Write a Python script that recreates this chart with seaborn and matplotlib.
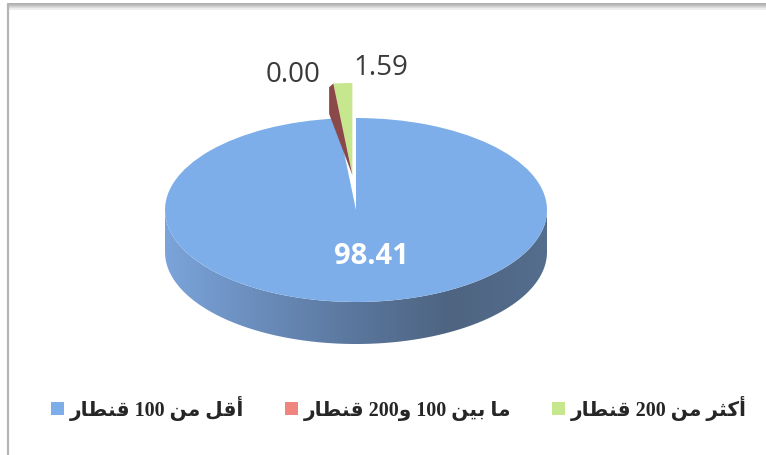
import re
import numpy as np
import matplotlib
matplotlib.use("Agg")
import matplotlib.pyplot as plt
from matplotlib.patches import Polygon
from matplotlib.lines import Line2D
from matplotlib.colors import LinearSegmentedColormap
import seaborn as sns

# data
categories = ["أقل من 100 قنطار", "ما بين 100 و200 قنطار", "أكثر من 200 قنطار"]
values = [98.41, 0.00, 1.59]
value_labels = ["98.41", "0.00", "1.59"]
colors = ["#7EAEE9", "#F0857F", "#C6E78E"]
explode = [0, 0.38, 0.38]

# arabic shaping (matplotlib has no bidi / joining support)
FORMS = {
    "ا": ("\uFE8D", "\uFE8E", None, None),
    "أ": ("\uFE83", "\uFE84", None, None),
    "ب": ("\uFE8F", "\uFE90", "\uFE91", "\uFE92"),
    "ث": ("\uFE99", "\uFE9A", "\uFE9B", "\uFE9C"),
    "ر": ("\uFEAD", "\uFEAE", None, None),
    "ط": ("\uFEC1", "\uFEC2", "\uFEC3", "\uFEC4"),
    "ق": ("\uFED5", "\uFED6", "\uFED7", "\uFED8"),
    "ك": ("\uFED9", "\uFEDA", "\uFEDB", "\uFEDC"),
    "ل": ("\uFEDD", "\uFEDE", "\uFEDF", "\uFEE0"),
    "م": ("\uFEE1", "\uFEE2", "\uFEE3", "\uFEE4"),
    "ن": ("\uFEE5", "\uFEE6", "\uFEE7", "\uFEE8"),
    "و": ("\uFEED", "\uFEEE", None, None),
    "ي": ("\uFEF1", "\uFEF2", "\uFEF3", "\uFEF4"),
}


def shape(s):
    out = []
    for i, ch in enumerate(s):
        if ch not in FORMS:
            out.append(ch)
            continue
        prev = s[i - 1] if i > 0 else ""
        nxt = s[i + 1] if i + 1 < len(s) else ""
        pj = prev in FORMS and FORMS[prev][2] is not None
        nj = FORMS[ch][2] is not None and nxt in FORMS
        iso, fin, ini, med = FORMS[ch]
        if pj and nj:
            out.append(med)
        elif pj:
            out.append(fin)
        elif nj:
            out.append(ini)
        else:
            out.append(iso)
    vis = "".join(out)[::-1]
    return re.sub(r"[0-9]+", lambda m: m.group(0)[::-1], vis)


sns.set_theme(style="white")
plt.rcParams["font.family"] = ["Open Sans", "DejaVu Sans"]

W, H = 766, 455
cx, cy = 356, 210          # pie centre (pixels from top-left)
rx, ry, depth = 191, 92, 42

fig = plt.figure(figsize=(W / 100, H / 100), dpi=100)
ax = fig.add_axes([0, 0, 1, 1])

wedges, _ = ax.pie(values, colors=colors, startangle=90, counterclock=False,
                   explode=explode, wedgeprops=dict(linewidth=0, zorder=2))

# side wall of the 3d pie
d = depth / ry
th = np.linspace(np.pi, 2 * np.pi, 200)
top = np.column_stack([np.cos(th), np.sin(th)])
bot = np.column_stack([np.cos(th), np.sin(th) - d])[::-1]
side = Polygon(np.vstack([top, bot]), closed=True, facecolor="none",
               edgecolor="none", zorder=1)
ax.add_patch(side)
cmap = LinearSegmentedColormap.from_list(
    "side", ["#7BA4DA", "#6A8CBB", "#5A769C", "#4E6481", "#556E8E"])
grad = np.linspace(0, 1, 256).reshape(1, -1)
im = ax.imshow(grad, extent=[-1, 1, -1 - d, 0], aspect="auto", cmap=cmap,
               zorder=1, interpolation="bilinear")
im.set_clip_path(side)

# thin dark face of the exploded 0.00 slice, along the green slice edge
phi = np.deg2rad(wedges[1].theta2)
tip = np.array(wedges[2].center)
rim = tip + np.array([np.cos(phi), np.sin(phi)])
ax.add_patch(Polygon([tip, rim, rim + [-0.022, -0.04], rim + [-0.022, -0.33]],
                     closed=True, facecolor="#8B4848", edgecolor="none",
                     zorder=3))

ax.set_aspect("auto")
ax.set_xlim(-cx / rx, (W - cx) / rx)
ax.set_ylim(-(H - cy) / ry, cy / ry)
ax.axis("off")

# value labels
ax.text(0.08, -0.5, value_labels[0], color="white", fontsize=21,
        fontweight="bold", ha="center", va="center", zorder=5)
ax.text(-0.33, 1.47, value_labels[1], color="#3A3A3A", fontsize=20,
        ha="center", va="center", zorder=5)
ax.text(0.13, 1.54, value_labels[2], color="#3A3A3A", fontsize=20,
        ha="center", va="center", zorder=5)

leg = ax.legend(wedges, [shape(c) for c in categories], loc="center",
                bbox_to_anchor=(399 / W, 1 - 408 / H),
                bbox_transform=fig.transFigure, ncol=3, frameon=False,
                handlelength=0.65, handleheight=0.65, handletextpad=0.3,
                columnspacing=2.0,
                prop=dict(family=["Liberation Serif", "DejaVu Sans"],
                          weight="bold", size=14.5))

# chart border (grey top shade + left line)
for i, g in enumerate(["#A8A8A8", "#B8B8B8", "#CCCCCC", "#DEDEDE", "#EEEEEE"]):
    y = 1 - (4 + i * 1.3) / H
    fig.add_artist(Line2D([8 / W, 1], [y, y], color=g, lw=1.3))
fig.add_artist(Line2D([7.5 / W, 7.5 / W], [0, 1 - 4 / H], color="#B5B5B5", lw=1.6))

fig.savefig("out.png", dpi=100)
